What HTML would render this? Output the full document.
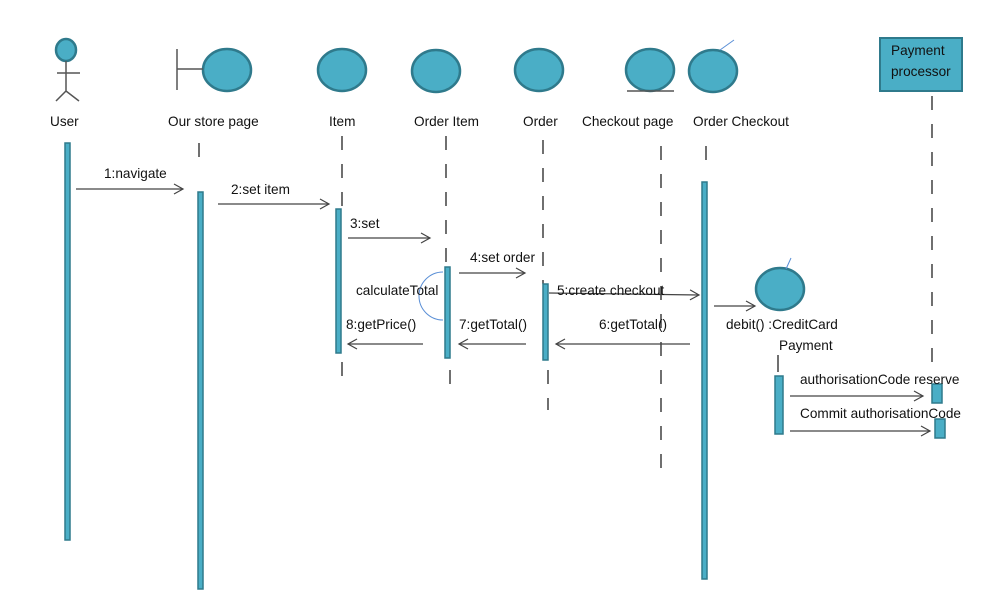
<!DOCTYPE html>
<html><head><meta charset="utf-8"><style>
html,body{margin:0;padding:0;background:#fff;width:993px;height:610px;overflow:hidden}
svg text{font-family:"Liberation Sans",sans-serif;font-size:13.6px;fill:#111}
</style></head><body>
<svg width="993" height="610" viewBox="0 0 993 610" xmlns="http://www.w3.org/2000/svg">
<defs>
<marker id="a" markerWidth="12" markerHeight="12" refX="10" refY="6" orient="auto" markerUnits="userSpaceOnUse">
<path d="M1,1 L10,6 L1,11" fill="none" stroke="#444" stroke-width="1.2"/></marker>
</defs>
<g fill="#4aaec6" stroke="#2f7a8c" stroke-width="2.5">
<ellipse cx="66" cy="50" rx="10" ry="11"/>
<ellipse cx="227" cy="70" rx="24" ry="21"/>
<ellipse cx="342" cy="70" rx="24" ry="21"/>
<ellipse cx="436" cy="71" rx="24" ry="21"/>
<ellipse cx="539" cy="70" rx="24" ry="21"/>
<ellipse cx="650" cy="70" rx="24" ry="21"/>
<ellipse cx="713" cy="71" rx="24" ry="21"/>
<ellipse cx="780" cy="289" rx="24" ry="21"/>
<rect x="880" y="38" width="82" height="53" stroke-width="2"/>
</g>
<g stroke="#555" stroke-width="1.5" fill="none">
<path d="M66,61 V91 M57,73 H80 M56,101 L66,91 L79,101"/>
<path d="M177,49 V90 M177,69 H203"/>
<path d="M627,91 H674"/>
</g>
<path d="M720,50 L734,40 M786,269 L791,258" stroke="#5a8fd6" stroke-width="1"/>
<g>
<text x="50" y="126">User</text>
<text x="168" y="126">Our store page</text>
<text x="329" y="126">Item</text>
<text x="414" y="126">Order Item</text>
<text x="523" y="126">Order</text>
<text x="582" y="126">Checkout page</text>
<text x="693" y="126">Order Checkout</text>
<text x="891" y="55">Payment</text>
<text x="891" y="76">processor</text>
</g>
<g stroke="#222" stroke-width="1.3" stroke-dasharray="14,14">
<line x1="199" y1="143" x2="199" y2="160"/>
<line x1="342" y1="136" x2="342" y2="210"/>
<line x1="342" y1="362" x2="342" y2="382"/>
<line x1="446" y1="136" x2="446" y2="267"/>
<line x1="450" y1="370" x2="450" y2="386"/>
<line x1="543" y1="140" x2="543" y2="284"/>
<line x1="548" y1="370" x2="548" y2="410"/>
<line x1="661" y1="146" x2="661" y2="470"/>
<line x1="706" y1="146" x2="706" y2="160"/>
<line x1="932" y1="96" x2="932" y2="376"/>
<line x1="778" y1="355" x2="778" y2="372" stroke-dasharray="none"/>
</g>
<g fill="#4aaec6" stroke="#2f7a8c" stroke-width="1.5">
<rect x="65" y="143" width="5" height="397"/>
<rect x="198" y="192" width="5" height="397"/>
<rect x="336" y="209" width="5" height="144"/>
<rect x="445" y="267" width="5" height="91"/>
<rect x="543" y="284" width="5" height="76"/>
<rect x="702" y="182" width="5" height="397"/>
<rect x="775" y="376" width="8" height="58"/>
<rect x="932" y="384" width="10" height="19"/>
<rect x="935" y="419" width="10" height="19"/>
</g>
<path d="M443,272 A24,24 0 0 0 443,320" stroke="#5a8fd6" fill="none" stroke-width="1"/>
<g stroke="#444" stroke-width="1.3" fill="none" marker-end="url(#a)">
<line x1="76" y1="189" x2="183" y2="189"/>
<line x1="218" y1="204" x2="329" y2="204"/>
<line x1="348" y1="238" x2="430" y2="238"/>
<line x1="459" y1="273" x2="525" y2="273"/>
<line x1="549" y1="293" x2="699" y2="295"/>
<line x1="423" y1="344" x2="348" y2="344"/>
<line x1="526" y1="344" x2="459" y2="344"/>
<line x1="690" y1="344" x2="556" y2="344"/>
<line x1="714" y1="306" x2="755" y2="306"/>
<line x1="790" y1="396" x2="923" y2="396"/>
<line x1="790" y1="431" x2="930" y2="431"/>
</g>
<text x="104" y="178">1:navigate</text>
<text x="231" y="194">2:set item</text>
<text x="350" y="228">3:set</text>
<text x="470" y="262">4:set order</text>
<text x="557" y="295">5:create checkout</text>
<text x="356" y="295">calculateTotal</text>
<text x="346" y="329">8:getPrice()</text>
<text x="459" y="329">7:getTotal()</text>
<text x="599" y="329">6:getTotal()</text>
<text x="726" y="329">debit() :CreditCard</text>
<text x="779" y="350">Payment</text>
<text x="800" y="384">authorisationCode reserve</text>
<text x="800" y="418">Commit authorisationCode</text>
</svg>
</body></html>
